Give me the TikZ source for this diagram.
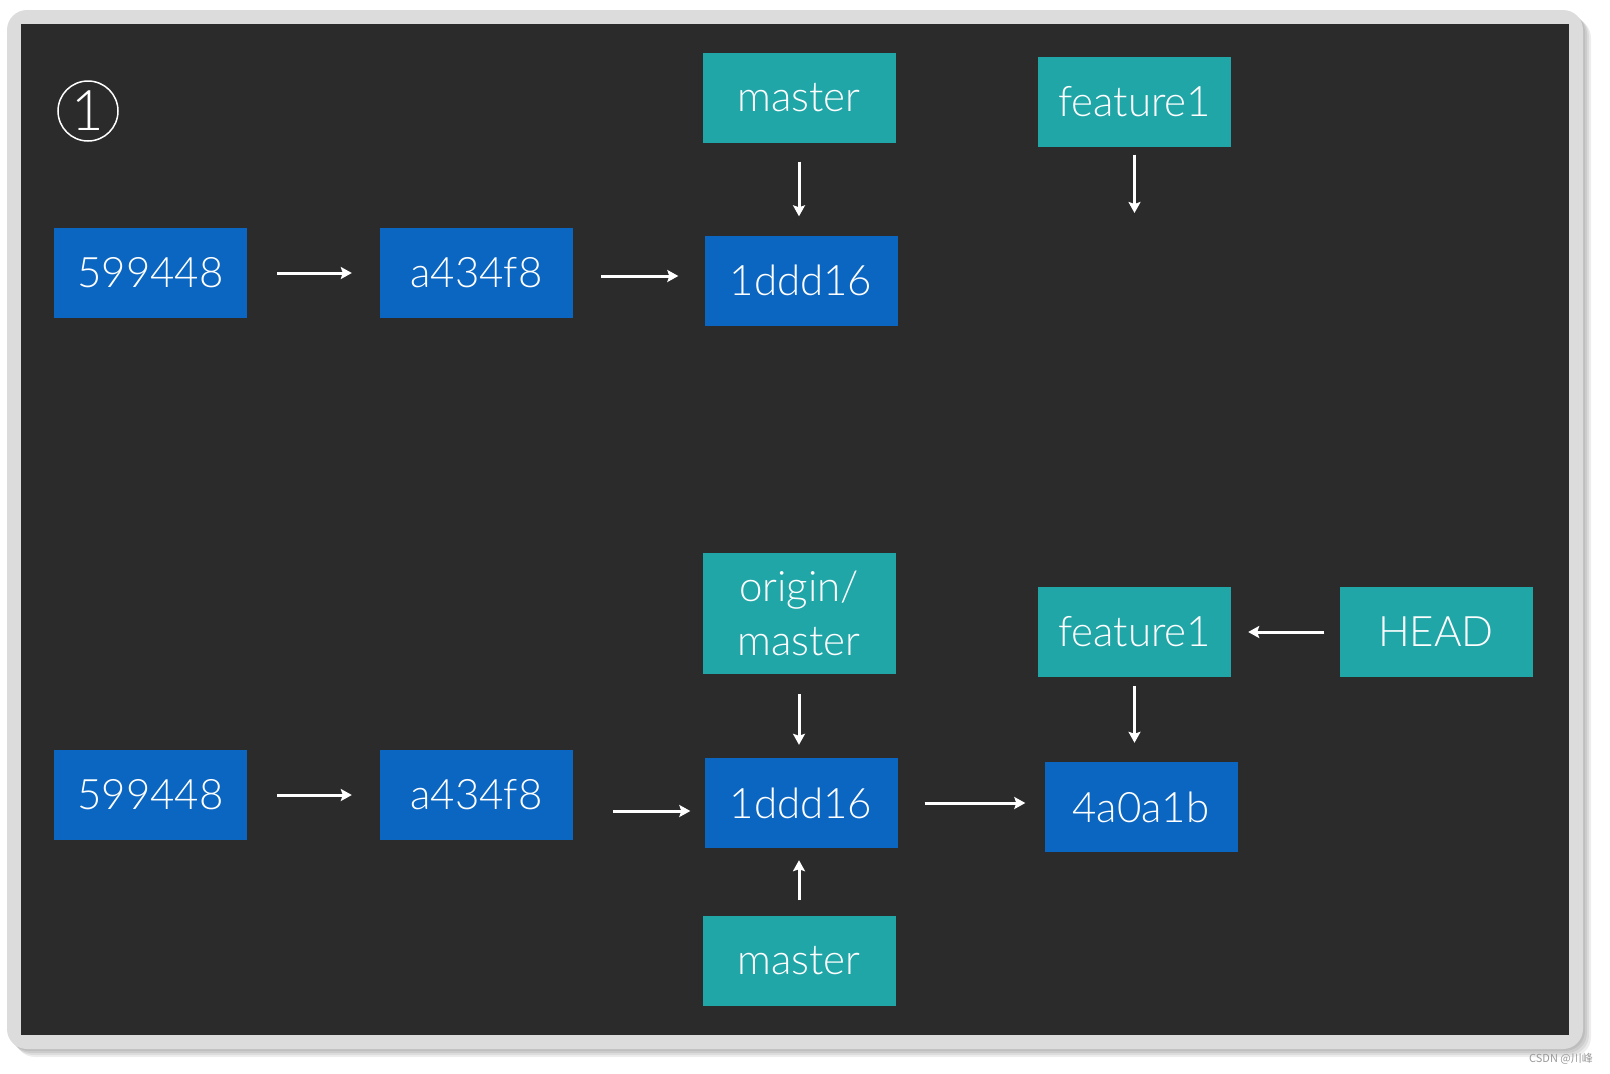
\documentclass[tikz,border=0pt]{standalone}
\usepackage{fontspec}
\setmainfont{Lato Light}
\newfontfamily\cjk{Noto Sans CJK SC}
\usetikzlibrary{arrows.meta, positioning}

\definecolor{bgdark}{HTML}{2B2B2B}
\definecolor{framegray}{HTML}{DCDCDC}
\definecolor{commitblue}{HTML}{0B66C2}
\definecolor{refteal}{HTML}{21A6A8}

\begin{document}
\begin{tikzpicture}[x=1pt, y=-1pt]
		\tikzstyle{Commit} = [rectangle, minimum width=193pt, minimum height=90pt, text centered, fill=commitblue, text=white, font=\fontsize{42}{54}\selectfont, inner sep=0pt]
		\tikzstyle{Ref} = [Commit, fill=refteal, align=center]
		\tikzstyle{arrow} = [line width=3pt, white, -{Stealth[length=11pt, width=12pt, inset=2pt]}]
		
		\useasboundingbox (0,0) rectangle (1610,1074);
		% frame with shadow
		\foreach \s in {2,4,6,8}
			\fill [black, opacity=0.07, rounded corners=20pt] (7+\s,10+\s) rectangle (1583+\s,1049+\s);
		\fill [framegray, rounded corners=20pt] (7,10) rectangle (1583,1049);
		\fill [bgdark] (21,24) rectangle (1569,1035);
		\node [text=gray!80, font=\cjk\fontsize{11}{13}\selectfont] (mark) at (1561,1059) {CSDN @川峰};
		
		% step number
		\node (num) [circle, draw=white, line width=1.5pt, minimum size=60pt, inner sep=0pt, text=white, font=\fontsize{56}{60}\selectfont] at (88,111) {1};
		
		% first state
		\node (s1) [Commit] at (150.5,273) {599448};
		\node (a1) [Commit] at (476.5,273) {a434f8};
		\node (d1) [Commit] at (801,280.5) {1ddd16};
		\node (m1) [Ref] at (799,97.5) {master};
		\node (f1) [Ref] at (1134.5,101.5) {feature1};
		\coordinate (f1end) at (1134.5,213);
		
		\draw [arrow, shorten <=30pt, shorten >=28pt] (s1.east) -- (s1.east -| a1.west);
		\draw [arrow, shorten <=28pt, shorten >=26pt] ([yshift=-3pt]a1.east) -- ([yshift=-3pt]a1.east -| d1.west);
		\draw [arrow, shorten <=19pt, shorten >=19pt] (m1.south) -- (m1.south |- d1.north);
		\draw [arrow, shorten <=8pt] (f1.south) -- (f1end);
		
		% second state
		\node (s2) [Commit] at (150.5,795) {599448};
		\node (a2) [Commit] at (476.5,795) {a434f8};
		\node (d2) [Commit] at (801,803) {1ddd16};
		\node (b2) [Commit] at (1141,807) {4a0a1b};
		\node (om) [Ref, minimum height=121pt] at (799,613.5) {origin/\\master};
		\node (f2) [Ref] at (1134.5,632) {feature1};
		\node (head) [Ref] at (1436,632) {HEAD};
		\node (m2) [Ref] at (799,960.5) {master};
		
		\draw [arrow, shorten <=30pt, shorten >=28pt] (s2.east) -- (s2.east -| a2.west);
		\draw [arrow, shorten <=40pt, shorten >=14pt] ([yshift=-8pt]d2.west -| a2.east) -- ([yshift=-8pt]d2.west);
		\draw [arrow, shorten <=27pt, shorten >=19pt] (d2.east) -- (d2.east -| b2.west);
		\draw [arrow, shorten <=20pt, shorten >=13pt] (om.south) -- (om.south |- d2.north);
		\draw [arrow, shorten <=9pt, shorten >=19pt] (f2.south) -- (f2.south |- b2.north);
		\draw [arrow, shorten <=15pt, shorten >=17pt] (head.west) -- (f2.east);
		\draw [arrow, shorten <=15pt, shorten >=12pt] (m2.north) -- (m2.north |- d2.south);
\end{tikzpicture}
\end{document}
